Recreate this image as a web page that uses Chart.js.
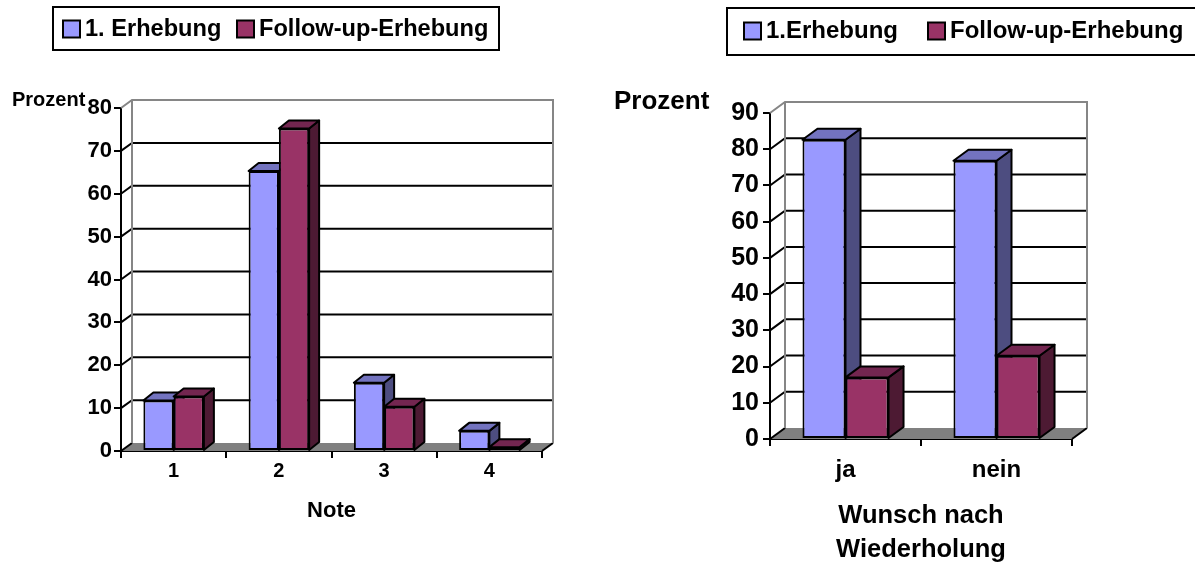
<!DOCTYPE html>
<html>
<head>
<meta charset="utf-8">
<title>Erhebung</title>
<script src="https://cdn.jsdelivr.net/npm/chart.js@4/dist/chart.umd.js"></script>
<style>
  html, body { margin: 0; background: #fff; overflow: hidden; }
  canvas { position: absolute; top: 0; }
  #noteChart { left: 0; }
  #wunschChart { left: 600px; }
</style>
</head>
<body>
<canvas id="noteChart" width="600" height="562"></canvas>
<canvas id="wunschChart" width="595" height="562"></canvas>
<script>
// Data

const noteLabels = ['1', '2', '3', '4'];
const noteFirst = [11.8, 65.3, 15.9, 4.7];
const noteFollow = [12.7, 75.2, 10.3, 0.9];

const wunschLabels = ['ja', 'nein'];
const wunschFirst = [82.6, 76.8];
const wunschFollow = [17, 23];

// Colours

const blue = { front: '#9999ff', top: '#7373bf', side: '#4d4d80' };
const maroon = { front: '#993366', top: '#732650', side: '#4d1a33' };
const fontFamily = '"Liberation Sans", Arial, sans-serif';

// Back wall, floor and the side and top of every bar

const depthPlugin = {
  id: 'depth',
  beforeDatasetsDraw(chart, args, opts) {
    const { ctx, chartArea: area, scales: { x, y } } = chart;
    const dx = opts.dx, dy = opts.dy;
    const y0 = y.getPixelForValue(0);
    const yTop = y.getPixelForValue(y.max);

    ctx.save();
    ctx.fillStyle = '#808080';
    ctx.beginPath();
    ctx.moveTo(area.left, y0);
    ctx.lineTo(area.left + dx, y0 - dy);
    ctx.lineTo(area.right + dx, y0 - dy);
    ctx.lineTo(area.right, y0);
    ctx.closePath();
    ctx.fill();

    ctx.lineWidth = 2;
    ctx.strokeStyle = '#000';
    y.ticks.forEach((tick) => {
      const py = y.getPixelForValue(tick.value);
      if (tick.value === y.max) return;
      ctx.beginPath();
      ctx.moveTo(area.left, py);
      ctx.lineTo(area.left + dx, py - dy);
      if (tick.value > 0) ctx.lineTo(area.right + dx, py - dy);
      ctx.stroke();
    });
    ctx.beginPath();
    ctx.moveTo(area.right, y0);
    ctx.lineTo(area.right + dx, y0 - dy);
    ctx.stroke();

    ctx.strokeStyle = '#868686';
    ctx.beginPath();
    ctx.moveTo(area.left, yTop);
    ctx.lineTo(area.left + dx, yTop - dy);
    ctx.lineTo(area.right + dx, yTop - dy);
    ctx.lineTo(area.right + dx, y0 - dy);
    ctx.moveTo(area.left + dx, yTop - dy);
    ctx.lineTo(area.left + dx, y0 - dy);
    ctx.stroke();

    ctx.strokeStyle = '#000';
    ctx.lineJoin = 'round';
    chart.data.datasets.forEach((set, i) => {
      chart.getDatasetMeta(i).data.forEach((bar) => {
        const left = bar.x - bar.width / 2;
        const right = bar.x + bar.width / 2;
        const bottom = bar.base;
        const ddx = opts.barDx, ddy = opts.barDy;

        ctx.fillStyle = set.faces.side;
        ctx.beginPath();
        ctx.moveTo(right, bar.y);
        ctx.lineTo(right + ddx, bar.y - ddy);
        ctx.lineTo(right + ddx, bottom - ddy);
        ctx.lineTo(right, bottom);
        ctx.closePath();
        ctx.fill();
        ctx.stroke();

        ctx.fillStyle = set.faces.top;
        ctx.beginPath();
        ctx.moveTo(left, bar.y);
        ctx.lineTo(left + ddx, bar.y - ddy);
        ctx.lineTo(right + ddx, bar.y - ddy);
        ctx.lineTo(right, bar.y);
        ctx.closePath();
        ctx.fill();
        ctx.stroke();
      });
    });
    ctx.restore();
  },
};

// Framed legend and the horizontal "Prozent" label

const frameLegendPlugin = {
  id: 'frameLegend',
  afterDraw(chart, args, opts) {
    const ctx = chart.ctx;
    ctx.save();
    ctx.strokeStyle = '#000';
    ctx.lineWidth = 2;
    ctx.fillStyle = '#fff';
    ctx.fillRect(opts.box[0], opts.box[1], opts.box[2], opts.box[3]);
    ctx.strokeRect(opts.box[0], opts.box[1], opts.box[2], opts.box[3]);

    ctx.font = 'bold ' + opts.fontSize + 'px ' + fontFamily;
    ctx.textBaseline = 'middle';
    chart.data.datasets.forEach((set, i) => {
      const sx = opts.swatchX[i];
      ctx.fillStyle = set.backgroundColor;
      ctx.fillRect(sx, opts.midY - opts.swatch / 2, opts.swatch, opts.swatch);
      ctx.strokeRect(sx, opts.midY - opts.swatch / 2, opts.swatch, opts.swatch);
      ctx.fillStyle = '#000';
      ctx.fillText(set.label, sx + opts.swatch + opts.gap, opts.midY);
    });

    ctx.font = 'bold ' + opts.yTitleSize + 'px ' + fontFamily;
    ctx.fillText('Prozent', opts.yTitleX, opts.yTitleY);
    ctx.restore();
  },
};

// Charts

function makeChart(id, conf) {
  return new Chart(document.getElementById(id), {
    type: 'bar',
    data: {
      labels: conf.labels,
      datasets: conf.series.map((s) => ({
        label: s.label,
        data: s.data,
        faces: s.faces,
        backgroundColor: s.faces.front,
        borderColor: '#000',
        borderWidth: 2,
        borderSkipped: false,
        barPercentage: 1,
        categoryPercentage: conf.groupWidth,
      })),
    },
    plugins: [depthPlugin, frameLegendPlugin],
    options: {
      responsive: false,
      animation: false,
      layout: { autoPadding: false, padding: conf.padding },
      plugins: {
        legend: { display: false },
        tooltip: { enabled: false },
        depth: conf.depth,
        frameLegend: conf.legend,
      },
      scales: {
        x: {
          afterFit(scale) { scale.height = conf.xHeight; },
          grid: { drawOnChartArea: false, color: '#000', tickLength: 7, lineWidth: 2 },
          border: { color: '#000', width: 2 },
          ticks: { color: '#000', padding: conf.xTickPad, maxRotation: 0, font: { family: fontFamily, weight: 'bold', size: conf.xTickSize } },
          title: {
            display: true,
            text: conf.xTitle,
            color: '#000',
            padding: 0,
            font: { family: fontFamily, weight: 'bold', size: conf.xTitleSize, lineHeight: conf.xTitleLine },
          },
        },
        y: {
          min: 0,
          max: conf.yMax,
          afterFit(scale) { scale.width = conf.yWidth; },
          grid: { drawOnChartArea: false, color: '#000', tickLength: 7, lineWidth: 2 },
          border: { color: '#000', width: 2 },
          ticks: { stepSize: 10, color: '#000', padding: conf.yTickPad, font: { family: fontFamily, weight: 'bold', size: conf.yTickSize } },
        },
      },
    },
  });
}

makeChart('noteChart', {
  labels: noteLabels,
  series: [
    { label: '1. Erhebung', data: noteFirst, faces: blue },
    { label: 'Follow-up-Erhebung', data: noteFollow, faces: maroon },
  ],
  groupWidth: 0.575,
  padding: { left: 0, right: 58, top: 108, bottom: 38 },
  xHeight: 73,
  yWidth: 121,
  yMax: 80,
  xTitle: 'Note',
  xTickSize: 20,
  xTickPad: 1,
  xTitleSize: 22,
  xTitleLine: 1.2,
  yTickSize: 22,
  yTickPad: 2,
  depth: { dx: 11, dy: 8, barDx: 10, barDy: 8 },
  legend: { box: [53, 7, 446, 43], swatchX: [63, 237], swatch: 17, gap: 5, midY: 29, fontSize: 23.6, yTitleSize: 20, yTitleX: 12, yTitleY: 100 },
});

makeChart('wunschChart', {
  labels: wunschLabels,
  series: [
    { label: '1.Erhebung', data: wunschFirst, faces: blue },
    { label: 'Follow-up-Erhebung', data: wunschFollow, faces: maroon },
  ],
  groupWidth: 0.57,
  padding: { left: 0, right: 123, top: 113, bottom: -5 },
  xHeight: 128,
  yWidth: 170,
  yMax: 90,
  xTitle: ['Wunsch nach', 'Wiederholung'],
  xTickSize: 24,
  xTickPad: 10,
  xTitleSize: 25.5,
  xTitleLine: 1.33,
  yTickSize: 25,
  yTickPad: 4,
  depth: { dx: 15, dy: 11, barDx: 15, barDy: 11 },
  legend: { box: [127, 8, 480, 47], swatchX: [144, 328], swatch: 17, gap: 5, midY: 31, fontSize: 24, yTitleSize: 26, yTitleX: 14, yTitleY: 102 },
});
</script>
</body>
</html>
